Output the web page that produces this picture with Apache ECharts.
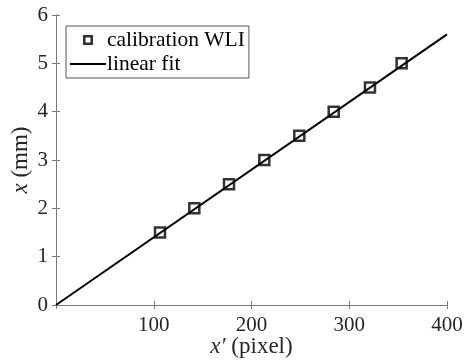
<!DOCTYPE html>
<html>
<head>
<meta charset="utf-8">
<script src="https://cdn.jsdelivr.net/npm/echarts@6/dist/echarts.min.js"></script>
<style>
  html, body { margin: 0; padding: 0; background: #fff; }
  #chart { width: 465px; height: 364px; }
</style>
</head>
<body>
<div id="chart"></div>
<script>
// Calibration measurements: image position (pixel) vs. physical position (mm)
const pixelPos = [106.4, 141.5, 177.0, 213.1, 248.9, 284.1, 321.2, 353.6];
const mmPos = [1.5, 2.0, 2.5, 3.0, 3.5, 4.0, 4.5, 5.0];
// Linear fit endpoints
const fitX = [0, 400];
const fitY = [0, 5.6];

const FONT = 'Liberation Serif';
const AXIS = '#7a7a7a';
const TEXT = '#262626';

// Legend icons: hollow square and a short solid line
const SQUARE_ICON = 'path://M0,0H10V10H0Z M2.6,2.6V7.4H7.4V2.6Z';
const LINE_ICON = 'path://M0,0H36V2H0Z';

const chart = echarts.init(document.getElementById('chart'));

const baseAxis = {
  axisLine: { show: true, lineStyle: { color: AXIS, width: 1 } },
  axisTick: { show: true, inside: true, length: 4, lineStyle: { color: AXIS } },
  splitLine: { show: false }
};

const nameStyle = {
  fontFamily: FONT, fontSize: 23, color: TEXT,
  rich: { i: { fontFamily: FONT, fontSize: 23, fontStyle: 'italic', color: TEXT } }
};

chart.setOption({
  animation: false,
  backgroundColor: '#fff',
  grid: { left: 56, right: 18, top: 15, bottom: 59, containLabel: false, outerBoundsMode: 'none' },
  legend: {
    orient: 'vertical',
    left: 66,
    top: 26,
    padding: [3, 4, 3, 4],
    itemGap: 2,
    itemWidth: 36,
    itemHeight: 10,
    borderColor: '#555',
    borderWidth: 1,
    backgroundColor: '#fff',
    textStyle: { fontFamily: FONT, fontSize: 21.5, color: '#000', padding: [0, 0, 0, -4] },
    data: [
      { name: 'calibration WLI', icon: SQUARE_ICON, itemStyle: { color: '#000', borderWidth: 0 } },
      { name: 'linear fit', icon: LINE_ICON, itemStyle: { color: '#000', borderWidth: 0 } }
    ]
  },
  xAxis: [
    Object.assign({}, baseAxis, {
      type: 'value', min: 0, max: 400, interval: 100, position: 'bottom',
      axisLabel: {
        fontFamily: FONT, fontSize: 21, color: TEXT, margin: 10,
        formatter: v => (v === 0 ? '' : String(v))
      },
      name: '{i|x\u2032} (pixel)',
      nameLocation: 'middle',
      nameGap: 30,
      nameMoveOverlap: false,
      nameTextStyle: nameStyle
    }),
    Object.assign({}, baseAxis, {
      type: 'value', min: 0, max: 400, interval: 100, position: 'top',
      axisLabel: { show: false }
    })
  ],
  yAxis: [
    Object.assign({}, baseAxis, {
      type: 'value', min: 0, max: 6, interval: 1, position: 'left',
      axisLabel: { fontFamily: FONT, fontSize: 21, color: TEXT, margin: 8 },
      name: '{i|x} (mm)',
      nameLocation: 'middle',
      nameGap: 24,
      nameMoveOverlap: false,
      nameTextStyle: nameStyle
    }),
    Object.assign({}, baseAxis, {
      type: 'value', min: 0, max: 6, interval: 1, position: 'right',
      axisLabel: { show: false }
    })
  ],
  series: [
    {
      name: 'linear fit',
      type: 'line',
      data: fitX.map((x, i) => [x, fitY[i]]),
      showSymbol: false,
      symbol: 'none',
      lineStyle: { color: '#000', width: 2 },
      itemStyle: { color: '#000' },
      z: 2
    },
    {
      name: 'calibration WLI',
      type: 'scatter',
      data: pixelPos.map((x, i) => [x, mmPos[i]]),
      symbol: 'rect',
      symbolSize: 10,
      itemStyle: { color: 'rgba(0,0,0,0)', borderColor: '#000', borderWidth: 2.5 },
      z: 3
    }
  ]
});
</script>
</body>
</html>
